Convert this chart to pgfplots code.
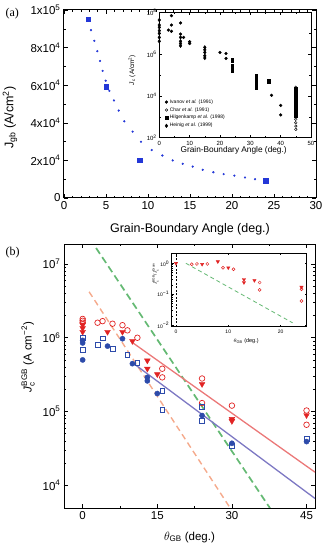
\documentclass[border=0pt]{standalone}
\usepackage{fontspec}
\setmainfont{Liberation Sans}
\newfontfamily\serif{Liberation Serif}
\usepackage{amsmath}
\usepackage{pgfplots}
\pgfplotsset{compat=1.18}
\definecolor{bsq}{RGB}{35,55,215}
\definecolor{rmk}{RGB}{225,35,35}
\definecolor{bmk}{RGB}{45,75,170}
\definecolor{rline}{RGB}{235,120,120}
\definecolor{bline}{RGB}{125,120,195}
\definecolor{gline}{RGB}{100,185,115}
\definecolor{oline}{RGB}{245,170,140}
\pgfplotsset{
  common/.style={scale only axis, anchor=south west, tick align=inside,
    /pgf/number format/assume math mode=true, scaled ticks=false,
    every tick/.style={black, line width=0.5pt}},
}
\begin{document}
\begin{tikzpicture}
\useasboundingbox (0,0) rectangle (324pt,547pt);
% ---------------- panel (a) main
\begin{axis}[common, at={(64pt,349pt)}, width=252pt, height=188pt,
  xmin=0, xmax=30, ymin=0, ymax=1e5,
  xtick={0,5,...,30}, minor x tick num=4,
  ytick={0,2e4,4e4,6e4,8e4,1e5},
  yticklabels={0,2x10\textsuperscript{4},4x10\textsuperscript{4},6x10\textsuperscript{4},8x10\textsuperscript{4},1x10\textsuperscript{5}},
  minor y tick num=1,
  major tick length=4pt, minor tick length=2pt,
  axis line style={line width=1pt},
  tick label style={font=\fontsize{11.5}{13}\selectfont},
  xlabel={Grain-Boundary Angle (deg.)},
  xlabel style={at={(axis description cs:0.5,-0.165)}, anchor=center, font=\fontsize{12.5}{14}\selectfont},
  ylabel={J\textsubscript{gb} (A/cm\textsuperscript{2})},
  ylabel style={at={(axis description cs:-0.214,0.428)}, anchor=center, font=\fontsize{12.5}{14}\selectfont},
]
\addplot[only marks, mark=*, mark size=0.9pt, color=bsq] coordinates {
(3.21,8.93e4)(3.61,8.36e4)(3.97,7.81e4)(4.29,7.29e4)(4.60,6.76e4)(4.96,6.24e4)
(5.40,5.70e4)(5.95,5.19e4)(6.51,4.65e4)(7.18,4.08e4)(8.17,3.53e4)(9.17,2.99e4)
(10.44,2.55e4)(11.71,2.26e4)(12.94,2.00e4)(14.13,1.82e4)(15.32,1.67e4)(16.51,1.50e4)
(17.78,1.37e4)(19.01,1.27e4)(20.28,1.19e4)(21.55,1.09e4)(22.74,1.00e4)};
\addplot[only marks, mark=square*, mark size=2.2pt, color=bsq] coordinates {
(2.9,9.5e4)(5.0,5.93e4)(9.0,2.0e4)(24.0,0.93e4)};
\end{axis}
% ---------------- panel (a) inset
\begin{axis}[common, at={(159.3pt,409.3pt)}, width=151.7pt, height=125.4pt,
  axis background/.style={fill=white},
  xmin=0, xmax=50, ymode=log, ymin=1e2, ymax=1e8,
  xtick={0,10,...,50}, minor x tick num=1,
  ytick={1e2,1e4,1e6,1e8},
  yticklabels={10\textsuperscript{2},10\textsuperscript{4},10\textsuperscript{6},10\textsuperscript{8}},
  minor ytick={1e3,1e5,1e7},
  major tick length=2.5pt, minor tick length=1.5pt,
  axis line style={line width=0.6pt},
  tick label style={font=\fontsize{6}{7}\selectfont},
  yticklabel style={xshift=1pt},
  xlabel={Grain-Boundary Angle (deg.)},
  xlabel style={at={(axis description cs:0.49,-0.098)}, anchor=center, font=\fontsize{8.3}{9}\selectfont},
  ylabel={\textit{J}\textsubscript{c} (A/cm\textsuperscript{2})},
  ylabel style={at={(axis description cs:-0.18,0.54)}, anchor=center, font=\fontsize{6.5}{7}\selectfont},
  legend style={at={(axis description cs:0.03,0.33)}, anchor=north west, draw=none, fill=none,
    font=\fontsize{5}{5.5}\selectfont, row sep=-1.2pt, inner sep=1pt},
  legend cell align=left,
]
\addplot[only marks, mark=*, mark size=1.4pt, black] coordinates {
(3,1.41e7)(4,6.9e7)(4,2.45e7)(4,1.23e7)(7,3.1e7)(7,9.1e6)(8,6.3e6)(10,3.9e6)(10,3.2e6)
(20,1.2e6)(22,1.07e6)(22,6.2e5)(37,1.07e4)(40,3.5e3)(40,1.23e3)};
\addlegendentry{Ivanov \textit{et al.} (1991)}
\addplot[only marks, mark=o, mark size=1.3pt, black, mark options={line width=0.45pt}] coordinates {
(45,7.6e2)(45,5.2e2)(45,3.6e2)(45,2.5e2)(45,2.6e4)};
\addlegendentry{Char \textit{et al.} (1991)}
\addplot[only marks, mark=square*, mark size=1.3pt, black] coordinates {
(24,5.5e5)(24,4.5e5)(24,2.75e5)(24,2.1e5)(24,1.6e5)
(32,9.1e4)(32,7.1e4)(32,5.2e4)(32,4.1e4)(32,3.0e4)(32,2.3e4)(36,5.6e4)(36,4.6e4)
(45,2.2e4)(45,1.95e4)(45,1.5e4)(45,1.12e4)(45,8.7e3)(45,6.6e3)(45,5.1e3)(45,4.0e3)
(45,3.1e3)(45,2.4e3)(45,1.8e3)(45,1.4e3)(45,1.1e3)};
\addlegendentry{Hilgenkamp \textit{et al.} (1998)}
\addplot[only marks, mark=diamond*, mark size=1.8pt, black] coordinates {
(0,4.27e7)(0,2.45e7)(0,1.91e7)(0,1.32e7)(0,9.8e6)(0,6.3e6)(0,4.1e6)
(7,6.3e6)(7,4.1e6)(7,3.2e6)(7,2.5e6)
(15,2.1e6)(15,1.6e6)(15,1.2e6)(15,8.3e5)(15,6.5e5)};
\addlegendentry{Heinig \textit{et al.} (1999)}
\end{axis}
% ---------------- panel (b) main
\begin{axis}[common, at={(64pt,39pt)}, width=251pt, height=264pt,
  xmin=-3.75, xmax=46.7, ymode=log, ymin=4.9e3, ymax=1.87e7,
  xtick={0,15,30,45}, minor x tick num=1,
  ytick={1e4,1e5,1e6,1e7},
  yticklabels={10\textsuperscript{4},10\textsuperscript{5},10\textsuperscript{6},10\textsuperscript{7}},
  major tick length=4pt, minor tick length=2.2pt,
  axis line style={line width=0.8pt},
  tick label style={font=\fontsize{11.5}{13}\selectfont},
  xlabel={$\theta_{\text{GB}}$ (deg.)},
  xlabel style={at={(axis description cs:0.5,-0.11)}, anchor=center, font=\fontsize{11.5}{13}\selectfont},
  ylabel={\textit{J}$_{\text{c}}^{\text{BGB}}$ (A cm\textsuperscript{−2})},
  ylabel style={at={(axis description cs:-0.143,0.572)}, anchor=center, font=\fontsize{11.5}{13}\selectfont},
]
\addplot[oline, line width=1.4pt, dash pattern=on 6pt off 4pt] coordinates {(1.3,4.2e6)(30.5,4.0e3)};
\addplot[gline, line width=1.7pt, dash pattern=on 7pt off 4pt] coordinates {(2.7,1.65e7)(38.5,4.0e3)};
\addplot[rline, line width=1.3pt] coordinates {(9.9,8.7e5)(46.7,1.5e4)};
\addplot[bline, line width=1.3pt] coordinates {(9.8,4.7e5)(46.7,6.6e3)};
\addplot[only marks, mark=o, mark size=2.8pt, rmk, mark options={line width=0.7pt}] coordinates {
(0,1.8e6)(0,1.7e6)(0,1.6e6)(3,1.6e6)(4,1.68e6)(6,1.55e6)(8,1.48e6)(9,1.26e6)(11,1.0e6)
(16,3.8e5)(16,2.9e5)(24,2.8e5)(24,1.3e5)(30,1.2e5)(45,1.03e5)(45,6.6e4)};
\addplot[only marks, mark=triangle*, mark size=3.3pt, rmk, mark options={rotate=180}] coordinates {
(0,1.5e6)(0,1.35e6)(0,1.2e6)(5,1.2e6)(8,1.2e6)(10,0.9e6)(13,4.9e5)(13,3.8e5)(15,3.2e5)
(24,2.35e5)(30,7.9e4)(30,7.4e4)(45,8.9e4)};
\addplot[only marks, mark=square, mark size=2.4pt, bmk, mark options={line width=0.7pt}] coordinates {
(0,1.0e6)(0,0.68e6)(3,8.1e5)(4,9.8e5)(6,7.1e5)(9,5.8e5)(11,4.6e5)(16,1.9e5)(16,1.05e5)
(24,1.15e5)(24,7.4e4)(30,3.4e4)(45,4.3e4)};
\addplot[only marks, mark=*, mark size=2.6pt, bmk] coordinates {
(0,9.2e5)(0,8.5e5)(0,5.0e5)(5,7.7e5)(8,9.7e5)(10,4.45e5)(13,2.9e5)(13,2.6e5)(15,1.75e5)
(24,8.8e4)(30,3.7e4)(45,3.9e4)};
\end{axis}
% ---------------- panel (b) inset
\begin{axis}[common, at={(171.7pt,220.3pt)}, width=135pt, height=73.4pt,
  axis background/.style={fill=white},
  xmin=-0.82, xmax=25, ymode=log, ymin=0.009, ymax=2.1,
  xtick={0,10,20}, minor x tick num=1,
  ytick={0.01,0.1,1},
  yticklabels={10\textsuperscript{−2},10\textsuperscript{−1},10\textsuperscript{0}},
  major tick length=2.2pt, minor tick length=1.2pt,
  axis line style={line width=0.5pt},
  tick label style={font=\fontsize{5}{6}\selectfont},
  yticklabel style={xshift=1pt},
  xlabel={$\theta_{\text{GB}}$ (deg.)},
  xlabel style={at={(axis description cs:0.55,-0.2)}, anchor=center, font=\fontsize{5.5}{6}\selectfont},
  ylabel={\textit{J}$_{\text{c}}^{\text{BGB}}$/\textit{J}$_{\text{c}}^{\text{Grain}}$},
  ylabel style={at={(axis description cs:-0.12,0.72)}, anchor=center, font=\fontsize{4.5}{5}\selectfont},
]
\addplot[black, line width=0.4pt, dash pattern=on 2pt off 1.5pt] coordinates {(0,0.009)(0,2.1)};
\addplot[gline, line width=0.8pt, dash pattern=on 4pt off 3pt] coordinates {(1.9,1.0)(22.3,0.012)};
\addplot[only marks, mark=o, mark size=1.5pt, rmk, mark options={line width=0.5pt}] coordinates {
(3,0.93)(4,0.95)(6,0.95)(9,0.72)(11,0.64)(16,0.24)(16,0.138)(24,0.145)(24,0.061)};
\addplot[only marks, mark=triangle*, mark size=1.9pt, rmk, mark options={rotate=180}] coordinates {
(0,1.0)(5,0.93)(8,1.13)(10,0.72)(13,0.30)(13,0.24)(15,0.28)(24,0.17)};
\end{axis}
\node[anchor=west, font=\serif\fontsize{12}{13}\selectfont] at (2pt,533pt) {(a)};
\node[anchor=west, font=\serif\fontsize{12}{13}\selectfont] at (2pt,294pt) {(b)};
\end{tikzpicture}
\end{document}
